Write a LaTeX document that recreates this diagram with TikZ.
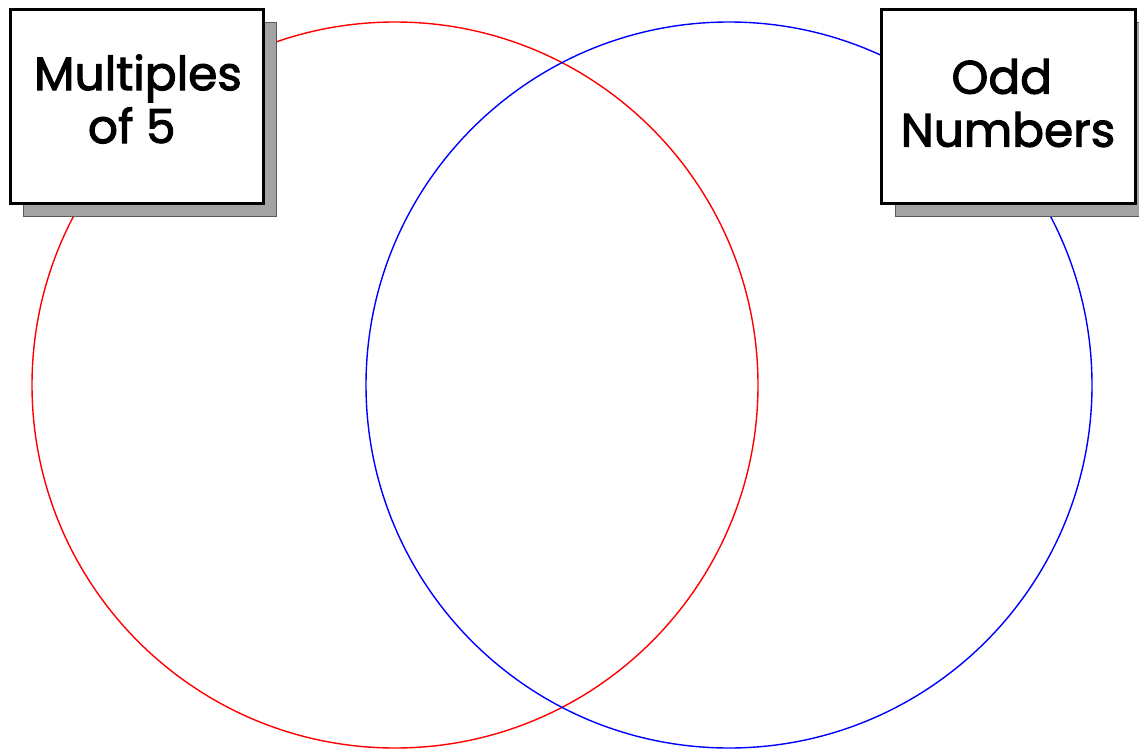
\documentclass[tikz,border=0pt]{standalone}
\usepackage{fontspec}
\newfontfamily\labelfont{Poppins}[FakeBold=2.2]
\definecolor{shadowgray}{HTML}{A3A3A3}
\definecolor{shadowedge}{HTML}{5A5A5A}
\begin{document}
\begin{tikzpicture}[x=1pt,y=-1pt,
  setcircle/.style={line width=1.4pt},
  shadowbox/.style={fill=shadowgray,draw=shadowedge,line width=1pt},
  labelbox/.style={fill=white,draw=black,line width=3pt},
  labeltext/.style={font=\labelfont\fontsize{47}{53}\selectfont,align=center,text=black}]
\useasboundingbox (0,0) rectangle (1139,749);
\draw[setcircle,red] (395,385) circle (363);
\draw[setcircle,blue] (729,385) circle (363);
% left label
\path[shadowbox] (23,23) rectangle (276,216);
\path[labelbox] (10,10) rectangle (263,203);
\node[labeltext] (mult) at (138,99) {Multiples\\of 5\phantom{ }};
% right label
\path[shadowbox] (895,23) rectangle (1149,216);
\path[labelbox] (881,10) rectangle (1135,203);
\node[labeltext] (odd) at (1008,103) {Odd\phantom{ }\\Numbers};
\end{tikzpicture}
\end{document}
